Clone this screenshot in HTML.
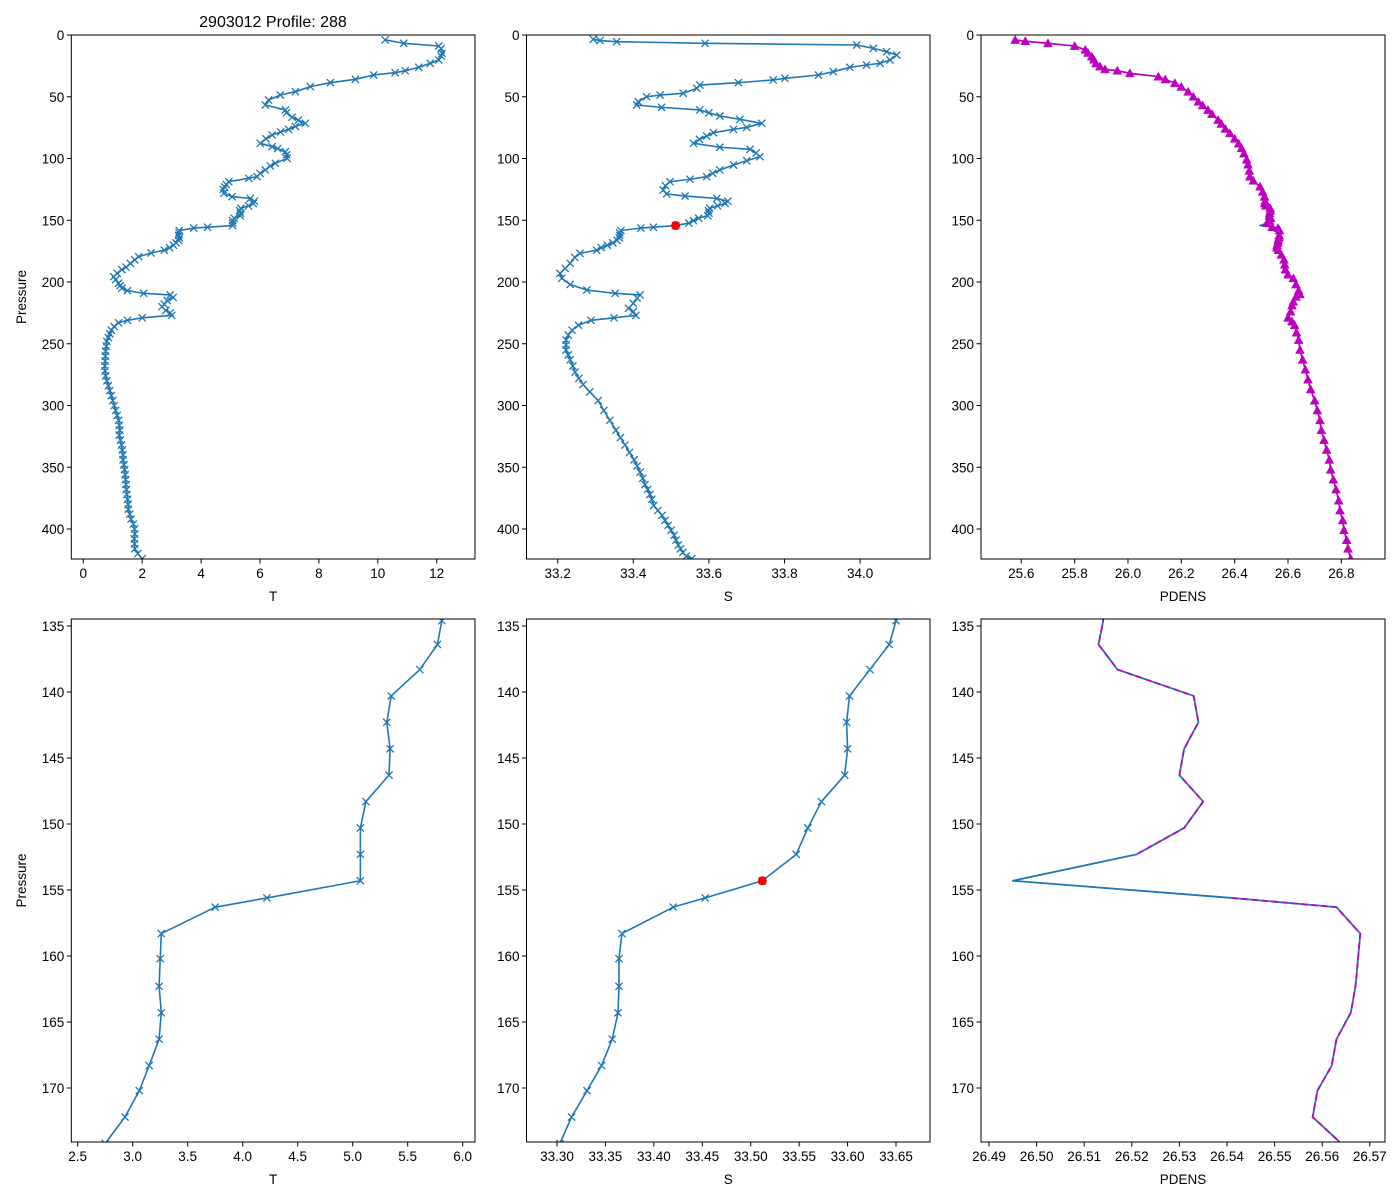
<!DOCTYPE html>
<html><head><meta charset="utf-8"><style>
html,body{margin:0;padding:0;background:#fff;width:1400px;height:1200px;overflow:hidden;}
svg{display:block;font-family:"Liberation Sans","DejaVu Sans",sans-serif;}
</style></head><body>
<svg id="fig" width="1400" height="1200" viewBox="0 0 1400 1200">
<rect width="1400" height="1200" fill="#fff"/>
</svg>
<script>
const tP=[4,6.7,8.9,11,14.8,17,20.2,22.9,26.2,28.9,30.5,32.4,35.9,38.6,41.8,45.9,48.6,52.6,56.7,60.7,63,66.6,69,71.5,74,76.4,78.5,81,84,87.7,90.4,92,94.5,97,99.9,103.9,106,109.3,112,114.7,116,118.8,121,123,125,128.2,130.9,132.3,134.6,136.4,138.3,140.3,142.3,144.3,146.3,148.3,150.3,152.3,154.3,155.6,156.3,158.3,160.2,162.3,164.3,166.3,168.3,170.2,172.2,174.2,176.5,179.5,182,185,188,190,193,195.7,198,201,203,205,207,209.2,210.5,212.5,215,218,220,223,225,227,229,231,233,236,239,242,245,248,252,256,260,264,268,272,276,280,284,288,292,296,300,304,308,312,316,320,324,328,332,336,340,344,348,352,356,360,364,368,372,376,380,384,388,392,396,400,404,408,412,416,420,424];
const tV=[10.25,10.88,12.07,12.15,12.18,12.15,12.07,11.78,11.39,10.93,10.59,9.86,9.24,8.39,7.71,7.2,6.69,6.29,6.18,6.86,6.9,7.09,7.3,7.54,7.2,6.97,6.7,6.41,6.2,6.01,6.41,6.6,6.86,6.9,6.92,6.52,6.35,6.18,6.0,5.9,5.62,4.94,4.85,4.8,4.75,4.77,5.05,5.67,5.81,5.77,5.61,5.35,5.31,5.34,5.33,5.12,5.07,5.07,5.07,4.22,3.75,3.26,3.25,3.24,3.26,3.24,3.15,3.06,2.93,2.75,2.3,1.88,1.75,1.6,1.45,1.31,1.15,1.03,1.1,1.2,1.25,1.31,1.5,2.05,2.95,3.05,2.85,2.75,2.67,2.8,2.95,3.0,2.0,1.5,1.2,1.05,0.95,0.9,0.85,0.8,0.78,0.76,0.75,0.74,0.73,0.74,0.76,0.8,0.85,0.9,0.95,1.0,1.05,1.1,1.15,1.2,1.22,1.24,1.22,1.26,1.3,1.32,1.35,1.35,1.38,1.4,1.42,1.44,1.45,1.46,1.48,1.5,1.52,1.53,1.58,1.62,1.7,1.74,1.75,1.73,1.74,1.75,1.85,2.0];
const sP=[3.5,4.5,5.4,6.7,8.1,10.8,13.5,16.2,20.2,22.9,24.3,26.2,29.7,32.4,35.1,36.4,38.6,40.5,43.2,47.2,48.6,50,54,56.7,58.6,60.7,63,65.6,68.3,71.5,74.8,76.4,79.1,81.8,84.5,87.7,90.9,92.6,95.5,98.5,101.8,105.3,109.3,112,114.7,116.8,118.8,122,125.5,128.7,130.4,132.3,134.6,136.4,138.3,140.3,142.3,144.3,146.3,148.3,150.3,152.3,154.3,155.6,156.3,158.3,160.2,162.3,164.3,166.3,168.3,170.2,172.2,174.2,176.8,180,184.9,189,193,197,202,206.5,209.2,210.5,213,217.3,221.3,224,227,229,231,235,239,243,247,251,255,259,263,268,273,278,283,289,296,304,312,320,326,332,338,344,349,354,359,364,368,372,376,381,385,389,393,397,401,405,409,413,416,419,422,424];
const sV=[33.294,33.312,33.356,33.59,33.991,34.035,34.07,34.097,34.079,34.053,34.017,33.973,33.929,33.89,33.801,33.77,33.678,33.576,33.568,33.532,33.471,33.435,33.413,33.409,33.475,33.576,33.6,33.629,33.682,33.74,33.70,33.665,33.612,33.594,33.575,33.559,33.629,33.709,33.725,33.735,33.70,33.665,33.629,33.61,33.594,33.55,33.497,33.485,33.479,33.488,33.537,33.621,33.65,33.643,33.623,33.602,33.599,33.6,33.597,33.573,33.559,33.547,33.512,33.453,33.42,33.367,33.364,33.364,33.363,33.357,33.346,33.331,33.315,33.303,33.259,33.245,33.233,33.22,33.206,33.211,33.233,33.277,33.352,33.418,33.41,33.40,33.387,33.40,33.407,33.349,33.288,33.255,33.238,33.228,33.222,33.222,33.222,33.228,33.233,33.24,33.246,33.256,33.267,33.285,33.307,33.322,33.338,33.354,33.366,33.378,33.39,33.402,33.41,33.418,33.425,33.431,33.438,33.444,33.449,33.454,33.465,33.476,33.484,33.492,33.50,33.508,33.513,33.519,33.525,33.531,33.54,33.555];
const dP=[4,5,6.7,8.9,12,14.5,17.5,20,23,25.5,27.8,28.9,31,33.7,36,39,42,46,50,54,57,60.7,64,68.8,72,76,79.6,84,88,91.7,96,101,105,110,114.7,118,122.8,127,131,134.6,136.4,138.3,140.3,142.3,144.3,146.3,148.3,150.3,152.3,154.3,155.6,156.3,158.3,162.3,164.3,166.3,168.3,170.2,172.2,174.2,178,182,186,190,194,197,202,207,210,212,216,219,224,229,232,235,241,247,255,263,271,279,287,296,304,312,320,328,336,344,352,360,368,377,385,393,401,409,416,424];
const dV=[25.577,25.615,25.70,25.80,25.84,25.85,25.864,25.872,25.88,25.895,25.914,25.96,26.007,26.114,26.14,26.176,26.2,26.226,26.245,26.264,26.28,26.30,26.315,26.338,26.35,26.365,26.382,26.40,26.415,26.426,26.435,26.445,26.45,26.455,26.457,26.47,26.495,26.505,26.512,26.514,26.513,26.517,26.533,26.534,26.531,26.530,26.535,26.531,26.521,26.495,26.541,26.563,26.568,26.567,26.566,26.563,26.562,26.559,26.558,26.564,26.575,26.585,26.588,26.59,26.60,26.62,26.63,26.64,26.645,26.63,26.62,26.615,26.61,26.60,26.615,26.625,26.632,26.64,26.645,26.655,26.665,26.675,26.685,26.70,26.71,26.72,26.725,26.735,26.745,26.755,26.76,26.77,26.78,26.79,26.795,26.805,26.81,26.82,26.825,26.835];
const spikeP=154.3;
const redP=154.3, redS=33.512;
const topPTicks=[0,50,100,150,200,250,300,350,400];
const botPTicks=[135,140,145,150,155,160,165,170];
const tTopTicks=[0,2,4,6,8,10,12];
const sTopTicks=[33.2,33.4,33.6,33.8,34.0];
const dTopTicks=[25.6,25.8,26.0,26.2,26.4,26.6,26.8];
const tBotTicks=[2.5,3.0,3.5,4.0,4.5,5.0,5.5,6.0];
const sBotTicks=[33.30,33.35,33.40,33.45,33.50,33.55,33.60,33.65];
const dBotTicks=[26.49,26.50,26.51,26.52,26.53,26.54,26.55,26.56,26.57];

const NS='http://www.w3.org/2000/svg';
const fig=document.getElementById('fig');
function mk(tag,attrs,parent){const e=document.createElementNS(NS,tag);for(const k in attrs)e.setAttribute(k,attrs[k]);(parent||fig).appendChild(e);return e;}
const BLUE='#1f77b4', MAG='#bf00bf';
let clipId=0;
function panel(name,box,xr,yr,xt,yt,xdec,xlabel,ylabel){
  const [L,T,R,B]=box;
  const sx=v=>L+(v-xr[0])/(xr[1]-xr[0])*(R-L);
  const sy=v=>T+(v-yr[0])/(yr[1]-yr[0])*(B-T);
  const g=mk('g',{});
  
  
  const id='c'+(clipId++);
  const cp=mk('clipPath',{id:id},g);mk('rect',{x:L,y:T,width:R-L,height:B-T},cp);
  const plot=mk('g',{'clip-path':'url(#'+id+')'},g);
  
  
  const frame=mk('rect',{x:L,y:T,width:R-L,height:B-T,fill:'none',stroke:'#000','stroke-width':1},g);
  
  
  xt.forEach(v=>{const x=sx(v);mk('line',{x1:x,x2:x,y1:B,y2:B+4.5,stroke:'#000'},g);
    const t=mk('text',{x:x,y:B+19,'font-size':13.5,'text-anchor':'middle',fill:'#000'},g);t.textContent=v.toFixed(xdec);
    });
  yt.forEach(v=>{const y=sy(v);mk('line',{x1:L-4.5,x2:L,y1:y,y2:y,stroke:'#000'},g);
    const t=mk('text',{x:L-7,y:y+5,'font-size':13.5,'text-anchor':'end',fill:'#000'},g);t.textContent=v;
    });
  const xl=mk('text',{x:(L+R)/2,y:B+42,'font-size':13.5,'text-anchor':'middle'},g);xl.textContent=xlabel;
  
  if(ylabel){const yl=mk('text',{x:0,y:0,'font-size':13.5,'text-anchor':'middle',transform:'translate(26,'+((T+B)/2)+') rotate(-90)'},g);yl.textContent=ylabel;
    }
  return {plot,sx,sy};
}
function line(p,P,V,color,w,dash,skip){
  let d='';let pen=false;
  for(let i=0;i<P.length;i++){
    if(skip!==undefined&&P[i]===skip){pen=false;continue;}
    d+=(pen?'L':'M')+p.sx(V[i]).toFixed(2)+','+p.sy(P[i]).toFixed(2);pen=true;}
  const a={d:d,fill:'none',stroke:color,'stroke-width':w,'stroke-linejoin':'round'};
  if(dash)a['stroke-dasharray']=dash;
  const e=mk('path',a,p.plot);
  
  
  return e;
}
function xmarks(p,P,V){
  let d='';const r=3.6;
  for(let i=0;i<P.length;i++){const x=p.sx(V[i]),y=p.sy(P[i]);
    d+=`M${x-r},${y-r}L${x+r},${y+r}M${x-r},${y+r}L${x+r},${y-r}`;}
  const e=mk('path',{d:d,stroke:BLUE,'stroke-width':1.3,fill:'none'},p.plot);
  
  
}
function tris(p,P,V,skip){
  let d='';const r=4.5;
  for(let i=0;i<P.length;i++){if(P[i]===skip)continue;const x=p.sx(V[i]),y=p.sy(P[i]);
    d+=`M${x},${y-r}L${x+r},${y+r*0.8}L${x-r},${y+r*0.8}Z`;}
  const e=mk('path',{d:d,fill:MAG,stroke:MAG,'stroke-width':0.5},p.plot);
  
  
}
function redDot(p){
  const e=mk('circle',{cx:p.sx(redS),cy:p.sy(redP),r:4.5,fill:'#ff0000'},p.plot);
  
  
}
const topY=[0,(559-35)/1.235];
const botY=[135+(619-626)/13.2,135+(1142-626)/13.2];
const p1=panel('temperature-profile',[71.3,35,475,559],[(71.3-83.3)/29.45,(475-83.3)/29.45],topY,tTopTicks,topPTicks,0,'T','Pressure');
line(p1,tP,tV,BLUE,1.6);xmarks(p1,tP,tV);
const p2=panel('salinity-profile',[526.5,35,930,559],[33.2+(526.5-557.7)/378,33.2+(930-557.7)/378],topY,sTopTicks,topPTicks,1,'S',null);
line(p2,sP,sV,BLUE,1.6);xmarks(p2,sP,sV);redDot(p2);
const p3=panel('density-profile',[981,35,1385,559],[25.6+(981-1021.3)/266.7,25.6+(1385-1021.3)/266.7],topY,dTopTicks,topPTicks,1,'PDENS',null);
line(p3,dP,dV,BLUE,1.6);line(p3,dP,dV,MAG,1.6,null,spikeP);tris(p3,dP,dV,spikeP);
const p4=panel('temperature-detail',[71.3,619,475,1142],[2.5+(71.3-77.7)/110,2.5+(475-77.7)/110],botY,tBotTicks,botPTicks,1,'T','Pressure');
line(p4,tP,tV,BLUE,1.6);xmarks(p4,tP,tV);
const p5=panel('salinity-detail',[526.5,619,930,1142],[33.30+(526.5-557)/968.6,33.30+(930-557)/968.6],botY,sBotTicks,botPTicks,2,'S',null);
line(p5,sP,sV,BLUE,1.6);xmarks(p5,sP,sV);redDot(p5);
const p6=panel('density-detail',[981,619,1385,1142],[26.49+(981-989)/4760,26.49+(1385-989)/4760],botY,dBotTicks,botPTicks,2,'PDENS',null);
line(p6,dP,dV,BLUE,1.8);line(p6,dP,dV,MAG,1.8,'6,4',spikeP);
const title=mk('text',{x:273,y:27,'font-size':16,'text-anchor':'middle'});
title.textContent='2903012 Profile: 288';


</script>
</body></html>
